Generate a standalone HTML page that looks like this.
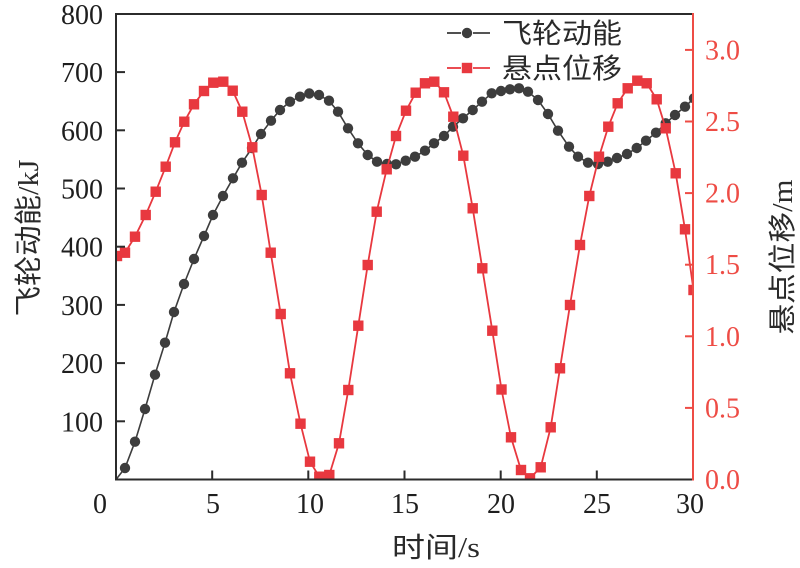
<!DOCTYPE html>
<html>
<head>
<meta charset="utf-8">
<style>
html,body{margin:0;padding:0;background:#fff;}
svg{display:block;}
.tk{font-family:"Liberation Serif",serif;font-size:28px;fill:#1e1e1e;}
.tr{font-family:"Liberation Serif",serif;font-size:28px;fill:#ee4c45;}
.cj{font-family:"Liberation Sans","Noto Sans CJK SC",sans-serif;font-size:28px;fill:#2a2a2a;}
</style>
</head>
<body>
<svg width="800" height="568" viewBox="0 0 800 568" xmlns="http://www.w3.org/2000/svg">
<defs>
<clipPath id="pa"><rect x="116" y="13" width="577" height="467"/></clipPath>
<marker id="mc" markerUnits="userSpaceOnUse" markerWidth="12" markerHeight="12" refX="6" refY="6" overflow="visible">
<circle cx="6" cy="6" r="5.2" fill="#3d3d3d"/>
</marker>
<marker id="ms" markerUnits="userSpaceOnUse" markerWidth="12" markerHeight="12" refX="6" refY="6" overflow="visible">
<rect x="0.8" y="0.8" width="10.4" height="10.4" fill="#e8383f"/>
</marker>
</defs>

<!-- series -->
<g clip-path="url(#pa)">
<line x1="116" y1="479.5" x2="125" y2="468" stroke="#3d3d3d" stroke-width="1.6"/>
<polyline fill="none" stroke="#3d3d3d" stroke-width="1.6" marker-start="url(#mc)" marker-mid="url(#mc)" marker-end="url(#mc)"
points="125,468 135,441.7 145,409 155,374.7 165,342.7 174,312 184,284 194,259 204,236 213,215 223,196 233,178.3 242,162.7 252,148 261,134 271,120.7 280,110 290,101.7 300,96.7 309.3,93.5 319,95 329,100.7 338,111.7 348,128.3 358,143.3 367.7,155 377,161.7 387,164 396,164.3 405.7,160.7 415,156.7 425,150.7 434,143.3 444,136 453,126.7 463,118.3 472.7,110 482,101.7 491.7,93.3 501,91 510,89.3 519,88.3 528,91.7 538,100 548,114 558,130.7 569,146.7 578,156.7 588,162.7 598,164 607.7,161.7 617,158 627,154 636.7,148 646,140.7 656,132.7 665.7,123.3 675,115 685,106.7 694,98.3"/>
<polyline fill="none" stroke="#e8383f" stroke-width="1.8" marker-start="url(#ms)" marker-mid="url(#ms)" marker-end="url(#ms)"
points="117,256 125,252.7 135,236.7 145.7,215 155.7,191.7 165.7,166.7 175,142.3 184.3,121.7 194,104.3 204,91 213.3,82.7 223.3,81.7 232.7,90.7 242.3,111.7 252.3,147.3 261.7,195 270.7,252.7 280.7,314 290,373.3 300.5,423.7 310,461.7 319.3,476.7 329.3,475 339,443.3 348.3,390 358.3,325.7 367.7,265 376.7,211.7 386.7,169.3 396,136 406,110.7 415.7,92.7 425,83.3 434.3,81.7 444,92.3 453.3,116.7 463.3,155.7 472.7,208.3 482.3,268.3 492.3,330.7 501.5,389.5 511,437.3 521,470 530,478.3 540.7,467.3 550.7,427.3 560,368.3 570,305 580,245 589.3,196 599,156.7 608.3,126.7 617.7,103.3 627.7,88.3 637.3,80.7 646.7,83.3 656.7,99.3 665.7,128.3 675.7,173.3 685,229.3 693.5,290"/>
</g>

<!-- axes -->
<g stroke="#2b2b2b" stroke-width="2" fill="none">
<line x1="115" y1="14" x2="693" y2="14"/>
<line x1="116" y1="13" x2="116" y2="480.5"/>
<line x1="115" y1="479.5" x2="693" y2="479.5"/>
<line x1="116" y1="421.3" x2="125" y2="421.3"/>
<line x1="116" y1="363.1" x2="125" y2="363.1"/>
<line x1="116" y1="304.9" x2="125" y2="304.9"/>
<line x1="116" y1="246.7" x2="125" y2="246.7"/>
<line x1="116" y1="188.5" x2="125" y2="188.5"/>
<line x1="116" y1="130.3" x2="125" y2="130.3"/>
<line x1="116" y1="72.1" x2="125" y2="72.1"/>
<line x1="212.2" y1="479.5" x2="212.2" y2="470.5"/>
<line x1="308.3" y1="479.5" x2="308.3" y2="470.5"/>
<line x1="404.5" y1="479.5" x2="404.5" y2="470.5"/>
<line x1="500.7" y1="479.5" x2="500.7" y2="470.5"/>
<line x1="596.8" y1="479.5" x2="596.8" y2="470.5"/>
</g>
<g stroke="#ee4c45" stroke-width="2" fill="none">
<line x1="693" y1="13" x2="693" y2="480.5"/>
<line x1="693" y1="407.9" x2="685" y2="407.9"/>
<line x1="693" y1="336.3" x2="685" y2="336.3"/>
<line x1="693" y1="264.7" x2="685" y2="264.7"/>
<line x1="693" y1="193.1" x2="685" y2="193.1"/>
<line x1="693" y1="121.5" x2="685" y2="121.5"/>
<line x1="693" y1="49.9" x2="685" y2="49.9"/>
</g>

<!-- left tick labels -->
<g class="tk" text-anchor="end">
<text x="103" y="431.3">100</text>
<text x="103" y="373.1">200</text>
<text x="103" y="314.9">300</text>
<text x="103" y="256.7">400</text>
<text x="103" y="198.5">500</text>
<text x="103" y="140.3">600</text>
<text x="103" y="82.1">700</text>
<text x="103" y="23.9">800</text>
</g>
<!-- bottom tick labels -->
<g class="tk" text-anchor="middle">
<text x="100" y="513">0</text>
<text x="213" y="513">5</text>
<text x="310" y="513">10</text>
<text x="405" y="513">15</text>
<text x="501" y="513">20</text>
<text x="597" y="513">25</text>
<text x="690" y="513">30</text>
</g>
<!-- right tick labels -->
<g class="tr" text-anchor="start">
<text x="705" y="489">0.0</text>
<text x="705" y="417.4">0.5</text>
<text x="705" y="345.8">1.0</text>
<text x="705" y="274.2">1.5</text>
<text x="705" y="202.6">2.0</text>
<text x="705" y="131">2.5</text>
<text x="705" y="59.4">3.0</text>
</g>

<!-- axis titles -->
<text class="cj" transform="translate(38,238) rotate(-90)" text-anchor="middle" textLength="157" lengthAdjust="spacingAndGlyphs">飞轮动能<tspan font-family="Liberation Serif, serif">/kJ</tspan></text>
<text class="cj" transform="translate(792,257) rotate(-90)" text-anchor="middle" textLength="155" lengthAdjust="spacingAndGlyphs">悬点位移<tspan font-family="Liberation Serif, serif">/m</tspan></text>
<text class="cj" x="436" y="557" text-anchor="middle" textLength="88" lengthAdjust="spacingAndGlyphs">时间<tspan font-family="Liberation Serif, serif">/s</tspan></text>

<!-- legend -->
<g>
<line x1="447" y1="33" x2="461" y2="33" stroke="#3d3d3d" stroke-width="1.8"/>
<line x1="473" y1="33" x2="490" y2="33" stroke="#3d3d3d" stroke-width="1.8"/>
<circle cx="467" cy="33" r="5.2" fill="#3d3d3d"/>
<line x1="447" y1="68" x2="461" y2="68" stroke="#e8383f" stroke-width="1.8"/>
<line x1="473" y1="68" x2="490" y2="68" stroke="#e8383f" stroke-width="1.8"/>
<rect x="461.8" y="62.8" width="10.4" height="10.4" fill="#e8383f"/>
<text class="cj" x="502" y="43" font-size="29" textLength="120" lengthAdjust="spacingAndGlyphs">飞轮动能</text>
<text class="cj" x="502" y="78" font-size="29" textLength="120" lengthAdjust="spacingAndGlyphs">悬点位移</text>
</g>
</svg>
</body>
</html>
